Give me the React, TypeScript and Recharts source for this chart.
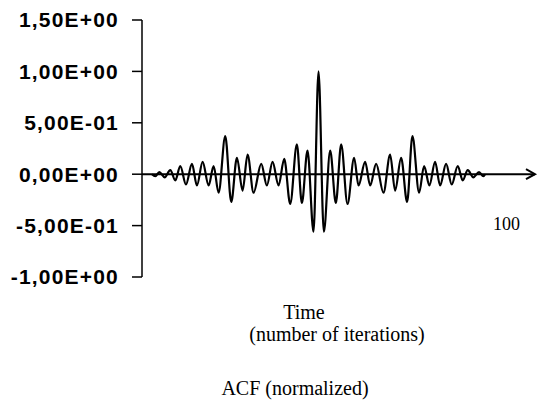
import { LineChart, Line, XAxis, YAxis, ReferenceLine } from 'recharts'

// lag position of each local extreme (0..100) and the normalized ACF there
const lag = [
  0, 1, 2.2, 3.8, 5.5, 7, 8.5, 10.2, 12, 13.5, 15.2, 17, 18.5, 20, 22, 23.8, 25.5, 27.2, 28.7, 30.5,
  32.8, 34.5, 36.2, 38, 39.7, 41.5, 43.5, 45, 46.7, 48.5, 50,
  51.6, 53.5, 55.2, 56.8, 58.7, 60.7, 62, 64, 65.5, 67.3, 69.5, 71.5, 73, 74.8, 76.6, 78.2, 80.2,
  81.7, 83.3, 85, 86.5, 88.3, 90, 91.8, 93.3, 94.8, 96.5, 98.2, 99.5, 100,
]
const acf = [
  0, -0.02, 0.02, -0.03, 0.04, -0.06, 0.08, -0.1, 0.1, -0.11, 0.12, -0.11, 0.08, -0.18, 0.37, -0.27, 0.16, -0.16, 0.19, -0.18,
  0.1, -0.11, 0.12, -0.11, 0.15, -0.29, 0.29, -0.28, 0.23, -0.56, 1,
  -0.56, 0.23, -0.28, 0.29, -0.29, 0.16, -0.11, 0.12, -0.11, 0.1, -0.18, 0.19, -0.16, 0.16, -0.27, 0.37, -0.18,
  0.08, -0.11, 0.12, -0.11, 0.1, -0.1, 0.08, -0.06, 0.04, -0.03, 0.02, -0.02, 0,
]

const yTicks = [-1, -0.5, 0, 0.5, 1, 1.5]
const yTickLabels = ['-1,00E+00', '-5,00E-01', '0,00E+00', '5,00E-01', '1,00E+00', '1,50E+00']

const data = lag.map((t, i) => ({ t, acf: acf[i] }))

const serif = '"Liberation Serif", "Times New Roman", serif'

function ArrowAxis(props: any) {
  const { x1, y1, x2, y2 } = props
  return (
    <g>
      <line x1={x1} y1={y1} x2={x2} y2={y2} stroke="#000" strokeWidth={2} />
      <polyline
        points={`${x2 - 9},${y2 - 5} ${x2},${y2} ${x2 - 9},${y2 + 5}`}
        fill="none"
        stroke="#000"
        strokeWidth={2}
      />
    </g>
  )
}

export default function App() {
  return (
    <div style={{ position: 'absolute', left: 0, top: 0, width: 538, height: 401, background: '#fff' }}>
      <LineChart width={538} height={401} data={data} margin={{ top: 20, right: 3, bottom: 124, left: 0 }}>
        <XAxis dataKey="t" type="number" domain={[-3, 115]} hide />
        <YAxis
          width={142}
          domain={[-1, 1.5]}
          ticks={yTicks}
          interval={0}
          tickFormatter={(v: number) => yTickLabels[yTicks.indexOf(v)]}
          axisLine={{ stroke: '#000', strokeWidth: 1.5 }}
          tickLine={{ stroke: '#000', strokeWidth: 1.5 }}
          tickSize={10}
          tickMargin={13}
          tick={{
            fill: '#000',
            fontSize: 21,
            fontWeight: 700,
            letterSpacing: 1.2,
            fontFamily: '"Liberation Sans", Arial, sans-serif',
          }}
        />
        <ReferenceLine y={0} shape={ArrowAxis} />
        <Line
          type="monotone"
          dataKey="acf"
          stroke="#000"
          strokeWidth={2.2}
          dot={false}
          isAnimationActive={false}
        />
      </LineChart>
      <div style={{ position: 'absolute', left: 493, top: 214, fontFamily: serif, fontSize: 18, lineHeight: '20px' }}>100</div>
      <div style={{ position: 'absolute', left: 0, width: 608, top: 300, textAlign: 'center', fontFamily: serif, fontSize: 20, lineHeight: '24px' }}>Time</div>
      <div style={{ position: 'absolute', left: 0, width: 674, top: 322, textAlign: 'center', fontFamily: serif, fontSize: 20, lineHeight: '24px' }}>(number of iterations)</div>
      <div style={{ position: 'absolute', left: 0, width: 590, top: 376, textAlign: 'center', fontFamily: serif, fontSize: 20, lineHeight: '24px' }}>ACF (normalized)</div>
    </div>
  )
}
